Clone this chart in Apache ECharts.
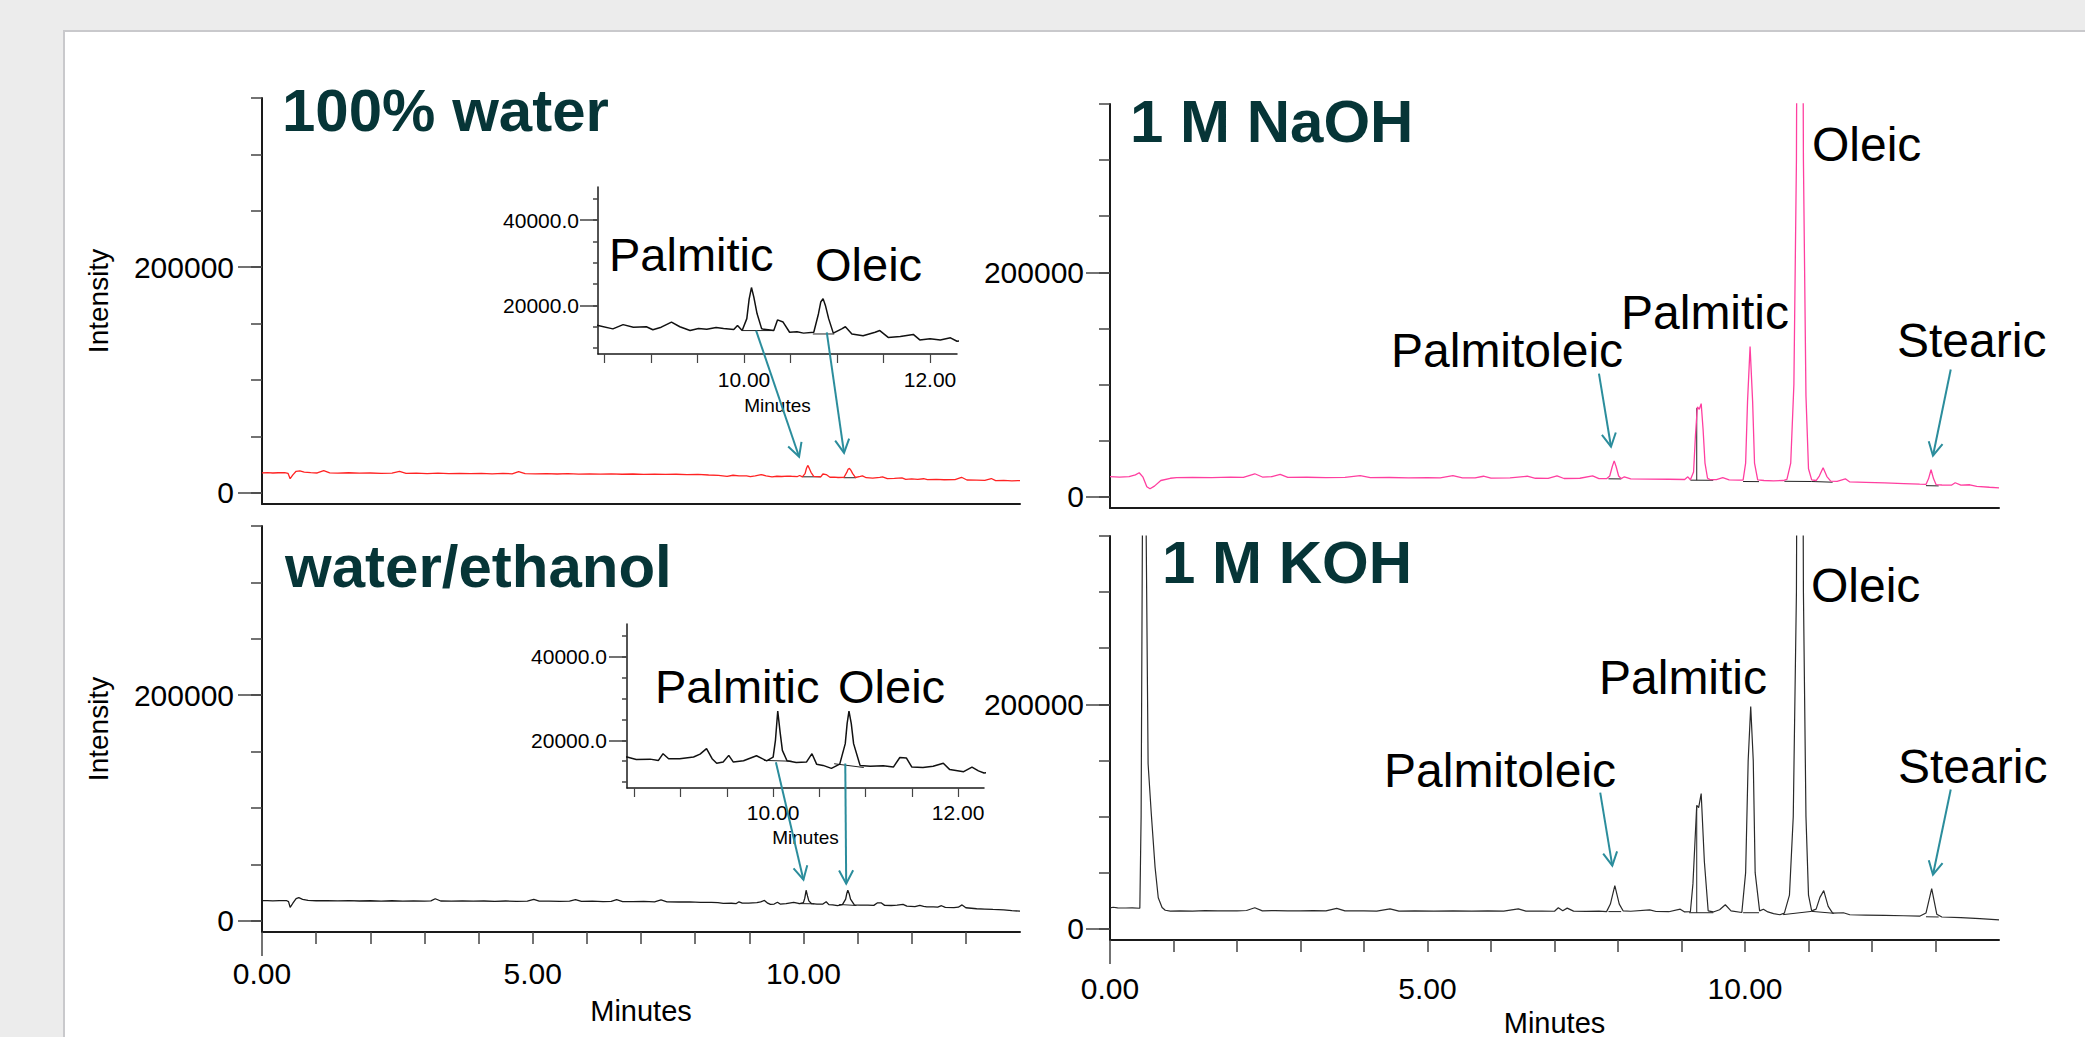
<!DOCTYPE html>
<html><head><meta charset="utf-8">
<script src="https://cdn.jsdelivr.net/npm/echarts@6/dist/echarts.min.js"></script>
<style>
html,body{margin:0;padding:0;background:#ececec;overflow:hidden}
#card{position:absolute;left:63px;top:30px;width:2100px;height:1100px;background:#fff;border-top:2px solid #c9c9cc;border-left:2px solid #c9c9cc;box-sizing:border-box}
#c{position:absolute;left:0;top:0;width:2085px;height:1037px}
</style>
</head><body><div id="card"></div><div id="c"></div>
<script>
// ---------------- DATA ----------------
const waterTrace = [
[0,17600],[0.1,17800],[0.2,17500],[0.3,17700],[0.42,17900],[0.48,17200],[0.52,12400],[0.57,15800],[0.63,19000],[0.7,19300],[0.78,18300],[0.9,17800],[1.02,17500],[1.14,19500],[1.25,17600],[1.4,17400],[1.6,17700],[1.8,17300],[2.0,17500],[2.2,17200],[2.4,17400],[2.54,18900],[2.66,17200],[2.85,17400],[3.05,17000],[3.25,17300],[3.45,17000],[3.65,17200],[3.85,16900],[4.05,17100],[4.25,16800],[4.45,17100],[4.62,16800],[4.74,18800],[4.86,16900],[5.05,16700],[5.25,17000],[5.45,16600],[5.65,16900],[5.85,16500],[6.05,16800],[6.25,16500],[6.45,16700],[6.65,16400],[6.85,16600],[7.05,16300],[7.25,16500],[7.45,16200],[7.65,16400],[7.85,16000],[8.05,16200],[8.25,15700],
[8.43,15300],[8.59,14500],[8.70,15500],[8.81,14900],[8.95,15000],[9.02,14300],[9.11,14900],[9.22,16100],[9.31,15000],[9.42,14100],[9.51,14600],[9.60,14400],[9.70,14800],[9.78,14600],[9.89,14350],[9.93,15300],[9.98,14100],[10.03,16900],[10.055,21500],[10.08,24200],[10.105,22000],[10.14,18100],[10.19,14500],[10.26,14300],[10.32,14100],[10.36,16600],[10.42,16100],[10.49,13700],[10.57,13800],[10.64,13500],[10.75,13700],[10.80,18000],[10.825,20800],[10.85,21600],[10.875,20000],[10.91,16900],[10.96,13500],[11.05,14500],[11.09,15000],[11.16,13300],[11.28,12900],[11.41,13700],[11.46,14100],[11.55,12500],[11.68,12700],[11.82,13200],[11.89,11900],[12.0,12200],[12.11,11900],[12.22,12400],[12.29,11600],
[12.45,11900],[12.6,11500],[12.8,11700],[12.92,13700],[13.02,11300],[13.2,11100],[13.35,10900],[13.47,12600],[13.55,10700],[13.7,10900],[13.85,10500],[14,10800]
];
const ethanolTrace = [
[0,17800],[0.1,17900],[0.2,17600],[0.32,17800],[0.45,17900],[0.49,17000],[0.52,11800],[0.57,15500],[0.63,19600],[0.68,20400],[0.75,19000],[0.85,18000],[1.0,17700],[1.2,17900],[1.4,17600],[1.6,17800],[1.8,17500],[2.0,17700],[2.2,17400],[2.4,17700],[2.6,17400],[2.8,17600],[3.0,17400],[3.12,17600],[3.2,19500],[3.3,17500],[3.5,17300],[3.7,17600],[3.9,17300],[4.1,17500],[4.3,17200],[4.5,17500],[4.7,17200],[4.9,17400],[5.02,18900],[5.12,17300],[5.3,17400],[5.5,17100],[5.68,17400],[5.79,18700],[5.9,17100],[6.1,17300],[6.3,17000],[6.45,17200],[6.55,18600],[6.66,17000],[6.85,16900],[7.05,17100],[7.25,16800],[7.37,18500],[7.48,16800],[7.7,16600],[7.9,16800],[8.1,16300],[8.3,16200],
[8.42,16000],[8.52,15400],[8.67,15500],[8.76,15200],[8.81,16800],[8.87,15600],[8.99,15600],[9.14,16000],[9.21,16700],[9.28,18000],[9.34,15600],[9.39,14500],[9.46,14800],[9.52,16400],[9.57,14800],[9.68,15100],[9.82,16300],[9.93,15100],[10.0,16000],[10.025,20000],[10.05,27000],[10.075,22000],[10.10,17600],[10.15,15100],[10.25,14700],[10.36,14800],[10.42,16800],[10.47,14300],[10.54,14000],[10.63,13300],[10.72,14300],[10.78,19200],[10.80,24000],[10.82,27000],[10.845,24000],[10.87,19200],[10.94,14000],[11.05,13800],[11.19,13900],[11.30,13600],[11.37,15900],[11.44,15800],[11.50,13600],[11.62,13500],[11.73,13800],[11.84,14500],[11.91,13000],[12.06,12500],[12.15,13600],[12.22,12700],[12.28,12200],
[12.4,12300],[12.48,12000],[12.55,13300],[12.62,11800],[12.78,11700],[12.86,12000],[12.93,14000],[13.0,11500],[13.2,10600],[13.35,10300],[13.5,10000],[13.7,9700],[13.85,9000],[14,8500]
];
const naohTrace = [
[0,17900],[0.15,17600],[0.3,17900],[0.4,19500],[0.46,21400],[0.52,17500],[0.58,9000],[0.63,7100],[0.7,9500],[0.8,14500],[0.95,16500],[1.05,17000],[1.3,17300],[1.6,17100],[1.9,17500],[2.1,17300],[2.28,20500],[2.4,17600],[2.55,17900],[2.68,20000],[2.8,17300],[3.1,17400],[3.4,17100],[3.7,17300],[3.94,18800],[4.1,17000],[4.4,17200],[4.7,16900],[5.0,17100],[5.2,16800],[5.4,18800],[5.55,16900],[5.75,16800],[5.88,18300],[6.0,16700],[6.3,16900],[6.57,18300],[6.7,16500],[6.9,16400],[7.04,18600],[7.15,16300],[7.4,16500],[7.6,18700],[7.7,16200],
[7.82,16100],[7.87,18500],[7.91,27000],[7.94,32000],[7.97,27000],[8.01,18500],[8.05,16200],[8.1,17800],[8.2,16000],[8.5,15800],[8.8,15600],[9.05,15400],[9.1,17800],[9.14,15200],[9.19,22000],[9.22,55000],[9.25,80000],[9.28,78000],[9.31,83000],[9.34,60000],[9.37,30000],[9.41,16500],[9.45,15300],[9.55,15200],[9.65,17000],[9.75,15000],[9.9,14800],[9.97,14800],[10.01,30000],[10.04,85000],[10.08,133900],[10.12,85000],[10.15,30000],[10.2,15000],[10.3,14500],[10.45,14200],[10.6,14500],[10.66,15500],[10.72,30000],[10.77,100000],[10.81,300000],[10.865,1200000],[10.92,300000],[10.96,90000],[11.0,25000],[11.05,15000],[11.12,14500],[11.17,18500],[11.23,25900],[11.29,18000],[11.35,14000],[11.45,13800],[11.58,16000],[11.65,13200],[11.9,12800],[12.2,12300],[12.5,11800],[12.75,11200],[12.85,11000],[12.89,16000],[12.93,24100],[12.97,16000],[13.01,10800],[13.1,10500],[13.25,10300],[13.31,12500],[13.4,10300],[13.54,10700],[13.65,9300],[13.85,8500],[14,8000]
];
const kohTrace = [
[0,18700],[0.05,19200],[0.12,18700],[0.25,18500],[0.35,18700],[0.47,18300],[0.49,100000],[0.51,350000],[0.54,600000],[0.57,350000],[0.6,147000],[0.65,102700],[0.71,54700],[0.76,27700],[0.82,19000],[0.87,16500],[0.95,15800],[1.1,16000],[1.3,15800],[1.5,16100],[1.7,15900],[2.0,16000],[2.15,16300],[2.28,18700],[2.4,16000],[2.6,16200],[2.8,15900],[3.0,16000],[3.2,16200],[3.4,15900],[3.57,18200],[3.7,15900],[4.0,16000],[4.2,15800],[4.41,17800],[4.55,15800],[4.8,15900],[5.1,15700],[5.4,15900],[5.7,15700],[5.95,16000],[6.2,15800],[6.43,17800],[6.55,15700],[6.8,15800],[7.0,15600],[7.06,18700],[7.13,16000],[7.2,18400],[7.3,15700],[7.5,15500],[7.7,15800],
[7.82,15300],[7.88,22000],[7.95,38400],[8.02,22000],[8.08,16000],[8.2,15600],[8.5,16800],[8.6,15400],[8.8,15200],[8.98,17500],[9.05,15000],[9.14,15200],[9.18,40000],[9.24,110000],[9.27,108000],[9.31,120500],[9.36,60000],[9.42,16000],[9.5,15000],[9.6,17000],[9.69,21400],[9.78,16000],[9.95,14500],[10.01,50000],[10.05,150000],[10.09,198000],[10.13,150000],[10.16,50000],[10.23,16000],[10.29,17400],[10.36,15000],[10.45,13500],[10.55,12500],[10.62,14000],[10.7,30000],[10.76,100000],[10.81,300000],[10.865,1200000],[10.92,300000],[10.96,100000],[11.0,30000],[11.05,16000],[11.12,17500],[11.18,28000],[11.24,34000],[11.31,20000],[11.38,14000],[11.55,14300],[11.65,12500],[11.9,12200],[12.2,11900],[12.5,11600],[12.75,11200],[12.85,14000],[12.94,35700],[13.02,13000],[13.1,10500],[13.4,10000],[13.7,9000],[14,8000]
];
const waterBaselines = [[[9.98,14100],[10.32,14100]],[[10.74,13300],[10.97,13300]]];
const ethanolBaselines = [[[9.9,15200],[10.2,15000]],[[10.66,14400],[10.98,13500]]];
const naohBaselines = [[[7.85,16000],[8.05,15900]],[[9.14,14800],[9.5,14700]],[[9.24,14800],[9.24,79000]],[[9.97,13600],[10.22,13500]],[[10.62,13800],[11.05,13600]],[[11.05,13600],[11.38,13000]],[[12.85,9900],[13.05,9700]]];
const kohBaselines = [[[7.85,15300],[8.05,15300]],[[9.12,14300],[9.5,14300]],[[9.24,14300],[9.24,108000]],[[9.97,14300],[10.22,14300]],[[10.6,12600],[11.05,15500],[11.4,13800]],[[12.85,10700],[13.05,10500]]];

const yTickValues = [0,50000,100000,150000,200000,250000,300000,350000];
const yLabelValues = [0,200000];
const xTickValues = [1,2,3,4,5,6,7,8,9,10,11,12,13];
const xLabelValues = [0,5,10];
const insetYTicks = [10000,15000,20000,25000,30000,35000,40000,45000];
const insetYLabels = [20000,40000];
const insetXTicks = [8.5,9,9.5,10,10.5,11,11.5,12];
const insetXLabels = [10,12];

// arrows: [gridIndex, minutes, intensity] start -> end
const arrows = [
 [[4,10.13,14100],[0,9.92,31900]],
 [[4,10.89,13700],[0,10.75,35400]],
 [[5,10.03,14760],[1,10.0,36400]],
 [[5,10.78,14450],[1,10.79,32900]],
 [[2,7.70,109800],[2,7.89,44600]],
 [[2,13.24,113400],[2,12.96,36600]],
 [[3,7.72,121400],[3,7.91,56250]],
 [[3,13.24,124100],[3,12.96,48200]]
];

// ---------------- CHART ----------------
const FONT = '"Liberation Sans", Arial, Helvetica, sans-serif';
const chart = echarts.init(document.getElementById('c'), null, {renderer:'svg', width:2085, height:1037});

const grids = [
 {left:262, top:98, width:758, height:406},
 {left:262, top:526, width:758, height:406},
 {left:1110, top:104, width:889, height:404},
 {left:1110, top:536, width:889, height:404},
 {left:598, top:187, width:359, height:167},
 {left:627, top:624, width:357, height:164}
];
const AX = '#1a1a1a', TK = '#444';
const xAxes = [], yAxes = [];
for (let g = 0; g < 4; g++) {
  const bottom = (g === 1 || g === 3);
  xAxes.push({type:'value', gridIndex:g, min:0, max:14, position:'bottom',
    axisLine:{show:true, onZero:false, lineStyle:{color:AX, width:2}},
    axisTick:{show:bottom, customValues:xTickValues, length:12, lineStyle:{color:TK, width:1.5}},
    axisLabel:{show:bottom, customValues:xLabelValues, formatter:v=>v.toFixed(2), fontSize:30, fontFamily:FONT, color:'#000', margin:(g===1?26:33)},
    splitLine:{show:false},
    name: bottom ? 'Minutes' : '', nameLocation:'middle', nameGap:(g===1?64:68),
    nameTextStyle:{fontSize:29, fontFamily:FONT, color:'#000'}});
}
xAxes.push({type:'value', gridIndex:4, min:8.43, max:12.29, position:'bottom',
  axisLine:{onZero:false, lineStyle:{color:AX, width:1.5}},
  axisTick:{customValues:insetXTicks, length:9, lineStyle:{color:TK, width:1.2}},
  axisLabel:{customValues:insetXLabels, formatter:v=>v.toFixed(2), fontSize:21, fontFamily:FONT, color:'#000', margin:15},
  splitLine:{show:false}, name:'Minutes', nameLocation:'middle', nameGap:42, nameTextStyle:{fontSize:19, fontFamily:FONT, color:'#000'}});
xAxes.push({type:'value', gridIndex:5, min:8.42, max:12.28, position:'bottom',
  axisLine:{onZero:false, lineStyle:{color:AX, width:1.5}},
  axisTick:{customValues:insetXTicks, length:9, lineStyle:{color:TK, width:1.2}},
  axisLabel:{customValues:insetXLabels, formatter:v=>v.toFixed(2), fontSize:21, fontFamily:FONT, color:'#000', margin:14},
  splitLine:{show:false}, name:'Minutes', nameLocation:'middle', nameGap:40, nameTextStyle:{fontSize:19, fontFamily:FONT, color:'#000'}});
[1,3].forEach(g => xAxes.push({type:'value', gridIndex:g, min:0, max:14, position:'bottom',
  axisLine:{show:false, onZero:false}, axisTick:{show:true, customValues:[0], length:24, lineStyle:{color:TK, width:1.5}},
  axisLabel:{show:false}, splitLine:{show:false}}));

for (let g = 0; g < 6; g++) {
  const inset = g >= 4;
  yAxes.push({type:'value', gridIndex:g, position:'left', min: inset?8600:-10000, max: inset?47800:350000,
    axisLine:{show:true, onZero:false, lineStyle:{color:AX, width: inset?1.5:2}},
    axisTick:{show:true, customValues: inset?insetYTicks:yTickValues, length: inset?5:11, lineStyle:{color:TK, width:1.5}},
    axisLabel:{show:false}, splitLine:{show:false}});
}
for (let g = 0; g < 6; g++) {
  const inset = g >= 4;
  const left = (g === 0 || g === 1);
  yAxes.push({type:'value', gridIndex:g, position:'left', min: inset?8600:-10000, max: inset?47800:350000,
    axisLine:{show:false, onZero:false},
    axisTick:{show:true, customValues: inset?insetYLabels:yLabelValues, length: inset?18:24, lineStyle:{color:TK, width:1.5}},
    axisLabel:{show:true, customValues: inset?insetYLabels:yLabelValues, formatter: inset ? (v=>v.toFixed(1)) : (v=>String(v)),
      fontSize: inset?21:30, fontFamily:FONT, color:'#000', margin: inset?(g===4?19:20):(left?28:26)},
    splitLine:{show:false},
    name: left ? 'Intensity' : '', nameLocation:'middle', nameGap:150,
    nameTextStyle:{fontSize:28, fontFamily:FONT, color:'#000'}});
}

function trace(data, idx, color, w) {
  return {type:'line', data:data, xAxisIndex:idx, yAxisIndex:idx, symbol:'none', animation:false,
    lineStyle:{color:color, width:w}, itemStyle:{color:color}, clip:true, silent:true, z:3};
}
const series = [
  trace(waterTrace, 0, '#ff2323', 1.3),
  trace(ethanolTrace, 1, '#1a1a1a', 1.3),
  trace(naohTrace, 2, '#ff3fa0', 1.3),
  trace(kohTrace, 3, '#2a2a2a', 1.2),
  trace(waterTrace, 4, '#111', 1.5),
  trace(ethanolTrace, 5, '#111', 1.5)
];
function addBase(segs, idx) { segs.forEach(s => series.push(Object.assign(trace(s, idx, '#222', 1), {z:2}))); }
addBase(waterBaselines, 0); addBase(waterBaselines, 4);
addBase(ethanolBaselines, 1); addBase(ethanolBaselines, 5);
addBase(naohBaselines, 2); addBase(kohBaselines, 3);

chart.setOption({
  animation:false, backgroundColor:'transparent',
  grid: grids.map(g => Object.assign({containLabel:false, outerBoundsMode:'none'}, g)),
  xAxis: xAxes, yAxis: yAxes, series: series
});

// ---------------- ANNOTATIONS ----------------
const TITLE = '#063537';
function txt(t, x, y, size, bold, color) {
  return {type:'text', z:100, style:{text:t, x:x, y:y, fill:color||'#000',
    font:(bold?'bold ':'') + size + 'px ' + FONT, align:'left', verticalAlign:'middle', textAlign:'left', textVerticalAlign:'middle'}};
}
const graphics = [
  txt('100% water', 282, 110, 60, true, TITLE),
  txt('water/ethanol', 285, 566, 60, true, TITLE),
  txt('1 M NaOH', 1130, 121, 60, true, TITLE),
  txt('1 M KOH', 1162, 562, 60, true, TITLE),
  txt('Palmitic', 609, 254, 47),
  txt('Oleic', 815, 264, 47),
  txt('Palmitic', 655, 686, 47),
  txt('Oleic', 838, 686, 47),
  txt('Palmitoleic', 1391, 350, 48),
  txt('Palmitic', 1621, 312, 48),
  txt('Oleic', 1812, 144, 48),
  txt('Stearic', 1897, 340, 48),
  txt('Palmitoleic', 1384, 770, 48),
  txt('Palmitic', 1599, 677, 48),
  txt('Oleic', 1811, 585, 48),
  txt('Stearic', 1898, 766, 48)
];
const AR = '#2b8d9c';
arrows.forEach(a => {
  const p0 = chart.convertToPixel({xAxisIndex:a[0][0], yAxisIndex:a[0][0]}, [a[0][1], a[0][2]]);
  const p1 = chart.convertToPixel({xAxisIndex:a[1][0], yAxisIndex:a[1][0]}, [a[1][1], a[1][2]]);
  const dx = p1[0]-p0[0], dy = p1[1]-p0[1], L = Math.hypot(dx, dy);
  const ux = dx/L, uy = dy/L, ang = 28*Math.PI/180, hl = 15;
  const h1 = [p1[0] - hl*(ux*Math.cos(ang) - uy*Math.sin(ang)), p1[1] - hl*(uy*Math.cos(ang) + ux*Math.sin(ang))];
  const h2 = [p1[0] - hl*(ux*Math.cos(-ang) - uy*Math.sin(-ang)), p1[1] - hl*(uy*Math.cos(-ang) + ux*Math.sin(-ang))];
  graphics.push({type:'polyline', z:100, shape:{points:[p0, p1]}, style:{stroke:AR, lineWidth:2, fill:null}});
  graphics.push({type:'polyline', z:100, shape:{points:[h1, p1, h2]}, style:{stroke:AR, lineWidth:2, fill:null}});
});
chart.setOption({graphic: graphics});
</script></body></html>
